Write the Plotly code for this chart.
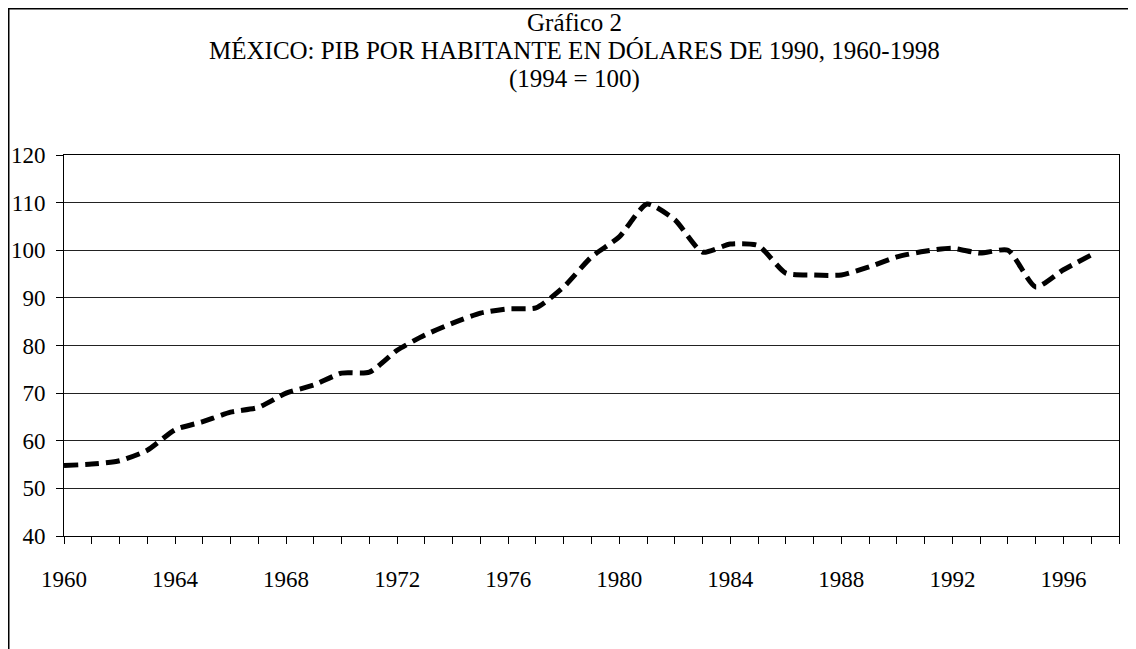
import plotly.graph_objects as go

# Datos (índice 1994 = 100)
years = list(range(1960, 1998))
pib_index = [
    54.8, 55.1, 55.8, 58.0, 62.3, 64.0, 66.0, 67.0, 70.0, 71.7,
    74.2, 74.4, 79.0, 82.2, 84.7, 86.8, 87.7, 87.9, 92.3, 98.6,
    102.8, 109.7, 106.4, 99.6, 101.3, 101.0, 95.2, 94.8, 94.8, 96.5,
    98.6, 99.8, 100.4, 99.4, 100.0, 92.3, 95.9, 99.0,
]
year_ticks = list(range(1960, 1997, 4))
y_ticks = list(range(40, 121, 10))
title_lines = [
    "Gráfico 2",
    "MÉXICO: PIB POR HABITANTE EN DÓLARES DE 1990, 1960-1998",
    "(1994 = 100)",
]

FONT = "Liberation Serif, Times New Roman, serif"

# tamaño de figura y del área de trazado (px)
W, H = 1128, 641
ML, MR, MT, MB = 56, 17, 147, 113
PW, PH = W - ML - MR, H - MT - MB

fig = go.Figure()

fig.add_trace(
    go.Scatter(
        x=years,
        y=pib_index,
        mode="lines",
        line=dict(color="black", width=5, dash="14px,7px", shape="spline", smoothing=0.6),
        showlegend=False,
        hoverinfo="x+y",
    )
)

# marco exterior (sólo izquierda y arriba visibles)
fig.add_shape(
    type="rect",
    xref="paper", yref="paper",
    x0=(0.75 - ML) / PW, x1=1.2,
    y0=-0.6, y1=(PH + MT - 0.75) / PH,
    line=dict(color="black", width=1.5),
    fillcolor="rgba(0,0,0,0)",
    layer="above",
)

# título en tres líneas
for text, fy in zip(title_lines, [15, 43, 71]):
    fig.add_annotation(
        text=text,
        xref="paper", yref="paper",
        x=(566 - ML) / PW,
        y=(PH + MT - fy) / PH,
        xanchor="center", yanchor="middle",
        showarrow=False,
        font=dict(family=FONT, size=25, color="black"),
    )

fig.update_layout(
    width=W,
    height=H,
    margin=dict(l=ML, r=MR, t=MT, b=MB, autoexpand=False),
    paper_bgcolor="white",
    plot_bgcolor="white",
    font=dict(family=FONT, size=23, color="black"),
)

fig.update_xaxes(
    range=[1960, 1998],
    tickmode="array",
    tickvals=year_ticks,
    ticks="outside",
    ticklen=7,
    tickcolor="black",
    ticklabelstandoff=15,
    minor=dict(dtick=1, tick0=1960, ticks="outside", ticklen=7, tickcolor="black", showgrid=False),
    showgrid=False,
    showline=True,
    linecolor="black",
    linewidth=1,
    mirror=True,
    zeroline=False,
    automargin=False,
    tickfont=dict(family=FONT, size=23),
)

fig.update_yaxes(
    range=[40, 120],
    tickmode="array",
    tickvals=y_ticks,
    ticks="outside",
    ticklen=7,
    tickcolor="black",
    ticklabelstandoff=6,
    showgrid=True,
    gridcolor="#222222",
    gridwidth=1,
    showline=True,
    linecolor="black",
    linewidth=1,
    mirror=True,
    zeroline=False,
    automargin=False,
    tickfont=dict(family=FONT, size=23),
)

fig.write_html("out.html")
